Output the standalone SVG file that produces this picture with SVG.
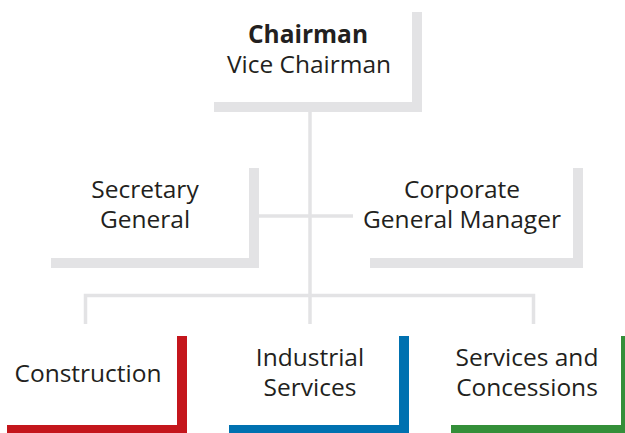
<svg xmlns="http://www.w3.org/2000/svg" width="625" height="433" viewBox="0 0 625 433">
<style>
.t{font-family:"Open Sans","DejaVu Sans",sans-serif;font-size:24.5px;fill:#231f20;text-anchor:middle}
.b{font-weight:bold}
.g{fill:#e3e3e5}
.con{stroke:#e3e3e5;stroke-width:3.5;fill:none}
</style>
<rect width="625" height="433" fill="#ffffff"/>
<g id="connectors">
<path class="con" d="M310 112V324"/>
<path class="con" d="M259 216H353"/>
<path class="con" d="M85.5 324V295.5H533.5V324"/>
</g>
<g id="chairman">
<path class="g" d="M412 12H422V112H214V102H412Z"/>
<text class="t b" x="308" y="43">Chairman</text>
<text class="t" x="309" y="73">Vice Chairman</text>
</g>
<g id="secretary">
<path class="g" d="M249 168H259V268H51V258H249Z"/>
<text class="t" x="145" y="198">Secretary</text>
<text class="t" x="145" y="228">General</text>
</g>
<g id="corporate">
<path class="g" d="M573 168H583V268H370V258H573Z"/>
<text class="t" x="462" y="198">Corporate</text>
<text class="t" x="462" y="228">General Manager</text>
</g>
<g id="construction">
<path fill="#c4161c" d="M177 336H187V434H7V425H177Z"/>
<text class="t" x="88" y="382">Construction</text>
</g>
<g id="industrial">
<path fill="#0071b0" d="M399 336H409V434H229V425H399Z"/>
<text class="t" x="310" y="366">Industrial</text>
<text class="t" x="310" y="396">Services</text>
</g>
<g id="services">
<path fill="#348f39" d="M621 336H631V434H451V425H621Z"/>
<text class="t" x="527" y="366">Services and</text>
<text class="t" x="527" y="396">Concessions</text>
</g>
</svg>
